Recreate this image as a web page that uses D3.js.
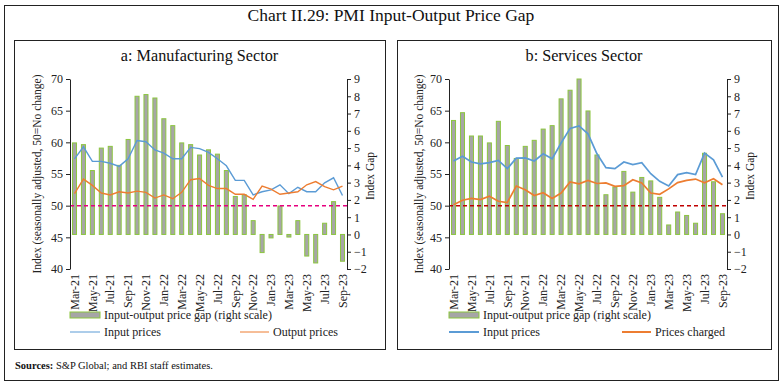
<!DOCTYPE html>
<html>
<head>
<meta charset="utf-8">
<script src="https://cdn.jsdelivr.net/npm/d3@7"></script>
<style>
  body { margin: 0; background: #fff; }
  svg { display: block; font-family: "Liberation Serif", "DejaVu Serif", serif; }
</style>
</head>
<body>
<svg id="chart" width="782" height="385"></svg>
<script>
const months = ["Mar-21","Apr-21","May-21","Jun-21","Jul-21","Aug-21","Sep-21","Oct-21","Nov-21","Dec-21",
  "Jan-22","Feb-22","Mar-22","Apr-22","May-22","Jun-22","Jul-22","Aug-22","Sep-22","Oct-22","Nov-22","Dec-22",
  "Jan-23","Feb-23","Mar-23","Apr-23","May-23","Jun-23","Jul-23","Aug-23","Sep-23"];

// manufacturing
const mfgGap    = [5.3, 5.2, 3.7, 5.0, 5.1, 4.0, 5.5, 8.0, 8.1, 7.9, 6.7, 6.3, 5.3, 5.2, 4.6, 4.9, 4.65, 3.7,
                   2.2, 2.3, 0.8, -1.05, -0.2, 1.65, -0.15, 0.8, -1.25, -1.65, 0.65, 1.9, -1.55];
const mfgInput  = [57.4, 59.3, 57.0, 57.0, 56.7, 56.2, 57.4, 60.3, 60.1, 58.8, 58.3, 57.4, 57.4, 59.2, 59.0, 58.4,
                   57.4, 56.3, 54.0, 54.0, 51.7, 52.2, 52.5, 53.3, 51.9, 52.9, 52.2, 52.2, 53.6, 54.4, 51.6];
const mfgOutput = [51.9, 54.2, 53.2, 52.0, 51.7, 52.2, 52.0, 52.3, 52.1, 51.2, 51.7, 51.1, 52.1, 54.1, 54.3, 53.2,
                   52.7, 52.7, 51.8, 51.8, 51.0, 53.1, 52.6, 51.8, 52.0, 52.2, 53.3, 53.8, 53.0, 52.5, 53.1];

// services
const svcGap     = [6.6, 7.05, 5.7, 5.7, 5.3, 6.55, 5.15, 4.4, 5.1, 5.45, 6.1, 6.3, 7.85, 8.35, 9.0, 7.15,
                    4.6, 2.3, 2.75, 3.65, 2.45, 3.3, 3.1, 2.15, 0.55, 1.3, 1.1, 0.65, 4.7, 3.05, 1.2];
const svcInput   = [57.05, 57.8, 56.9, 56.6, 56.8, 57.15, 55.85, 57.5, 57.55, 57.05, 58.2, 57.4, 59.9, 62.2,
                    62.6, 61.35, 58.2, 56.0, 55.85, 56.9, 56.5, 56.8, 55.05, 53.85, 53.1, 54.9, 55.2, 54.9,
                    58.3, 57.25, 54.5];
const svcCharged = [50.15, 50.85, 51.15, 50.95, 51.5, 50.7, 50.5, 53.1, 52.5, 51.6, 52.05, 51.15, 52.0, 53.75,
                    53.45, 54.0, 53.5, 53.6, 53.05, 53.15, 54.1, 53.6, 52.0, 51.8, 52.65, 53.65, 54.0, 54.2,
                    53.6, 54.25, 53.3];

const leftTicks = [40, 45, 50, 55, 60, 65, 70];
const rightTicks = [-2, -1, 0, 1, 2, 3, 4, 5, 6, 7, 8, 9];

const svg = d3.select("#chart");

// outer frame + title
svg.append("rect").attr("x", 4.5).attr("y", 5.5).attr("width", 774).attr("height", 375)
  .attr("fill", "none").attr("stroke", "#222").attr("stroke-width", 1);
svg.append("text").attr("x", 391).attr("y", 21).attr("text-anchor", "middle")
  .attr("font-size", 17.5).attr("fill", "#111")
  .text("Chart II.29: PMI Input-Output Price Gap");

const src = svg.append("text").attr("x", 15).attr("y", 369).attr("font-size", 10.5).attr("fill", "#111");
src.append("tspan").attr("font-weight", "bold").text("Sources:");
src.append("tspan").text(" S&P Global; and RBI staff estimates.");

function panel(opt) {
  const g = svg.append("g");
  g.append("rect").attr("x", opt.box[0] + 0.5).attr("y", 40.5)
    .attr("width", opt.box[1] - opt.box[0]).attr("height", 309)
    .attr("fill", "none").attr("stroke", "#222");
  g.append("text").attr("x", (opt.box[0] + opt.box[1]) / 2).attr("y", 61)
    .attr("text-anchor", "middle").attr("font-size", 16.2).attr("fill", "#111")
    .text(opt.title);

  const x = d3.scaleBand().domain(months).range([opt.x0, opt.x1]).paddingInner(0.55).paddingOuter(0.28);
  const yL = d3.scaleLinear().domain([40, 70]).range([269, 79]);
  const yR = d3.scaleLinear().domain([-2, 9]).range([269, 79]);
  const xc = d => x(d) + x.bandwidth() / 2;

  // bars (right scale)
  g.selectAll(".bar").data(opt.gap).join("rect")
    .attr("x", (d, i) => x(months[i]))
    .attr("y", d => Math.min(yR(d), yR(0)))
    .attr("width", x.bandwidth())
    .attr("height", d => Math.abs(yR(d) - yR(0)))
    .attr("fill", "#a6a6a6").attr("stroke", "#8cc63f").attr("stroke-width", 1);

  // 50 line
  g.append("line").attr("x1", opt.x0).attr("x2", opt.x1).attr("y1", yL(50)).attr("y2", yL(50))
    .attr("stroke", opt.dash).attr("stroke-width", 1.5).attr("stroke-dasharray", "4,3");

  const line = d3.line().x((d, i) => xc(months[i])).y(d => yL(d));
  g.append("path").datum(opt.input).attr("d", line).attr("fill", "none")
    .attr("stroke", "#5b9bd5").attr("stroke-width", opt.lineW);
  g.append("path").datum(opt.output).attr("d", line).attr("fill", "none")
    .attr("stroke", "#ed7d31").attr("stroke-width", opt.lineW);

  // axes
  const axL = g.append("g").attr("transform", `translate(${opt.x0},0)`)
    .call(d3.axisLeft(yL).tickValues(leftTicks).tickSize(4).tickSizeOuter(0));
  const axR = g.append("g").attr("transform", `translate(${opt.x1},0)`)
    .call(d3.axisRight(yR).tickValues(rightTicks).tickSize(4).tickSizeOuter(0));
  [axL, axR].forEach(a => {
    a.selectAll("text").attr("font-family", "Liberation Serif").attr("font-size", 12).attr("fill", "#222");
    a.selectAll("line, path").attr("stroke", "#222");
  });

  const axB = g.append("g").attr("transform", "translate(0,269)")
    .call(d3.axisBottom(x).tickValues(months.filter((m, i) => i % 2 === 0)).tickSize(0));
  axB.select(".domain").remove();
  axB.selectAll("text").attr("font-family", "Liberation Serif").attr("font-size", 12).attr("fill", "#222")
    .attr("transform", "rotate(-90)").attr("text-anchor", "end")
    .attr("x", -5).attr("y", 0).attr("dy", "0.35em");

  // axis titles
  g.append("text").attr("transform", `translate(${opt.labL},174) rotate(-90)`)
    .attr("text-anchor", "middle").attr("font-size", 11.5).attr("fill", "#222")
    .text("Index (seasonally adjusted, 50=No change)");
  g.append("text").attr("transform", `translate(${opt.x1 + 27},176) rotate(-90)`)
    .attr("text-anchor", "middle").attr("font-size", 11.5).attr("fill", "#222")
    .text("Index Gap");

  // legend
  const lx = opt.x0;
  g.append("rect").attr("x", lx).attr("y", 312).attr("width", 30).attr("height", 6)
    .attr("fill", "#a6a6a6").attr("stroke", "#8cc63f");
  g.append("text").attr("x", lx + 34).attr("y", 319).attr("font-size", 12).attr("fill", "#222")
    .text("Input-output price gap (right scale)");
  g.append("line").attr("x1", lx).attr("x2", lx + 30).attr("y1", 332).attr("y2", 332)
    .attr("stroke", "#5b9bd5").attr("stroke-width", opt.legW);
  g.append("text").attr("x", lx + 34).attr("y", 336).attr("font-size", 12).attr("fill", "#222")
    .text("Input prices");
  g.append("line").attr("x1", opt.lx2).attr("x2", opt.lx2 + 29).attr("y1", 332).attr("y2", 332)
    .attr("stroke", "#ed7d31").attr("stroke-width", opt.legW);
  g.append("text").attr("x", opt.lx2 + 33).attr("y", 336).attr("font-size", 12).attr("fill", "#222")
    .text(opt.outName);
}

panel({
  box: [14, 385], title: "a: Manufacturing Sector", x0: 70, x1: 347, labL: 41,
  gap: mfgGap, input: mfgInput, output: mfgOutput, dash: "#e6007e",
  lx2: 240, outName: "Output prices", legW: 1, lineW: 1.4
});
panel({
  box: [397, 771], title: "b: Services Sector", x0: 449, x1: 727, labL: 423,
  gap: svcGap, input: svcInput, output: svcCharged, dash: "#c00000",
  lx2: 622, outName: "Prices charged", legW: 2, lineW: 1.7
});
</script>
</body>
</html>
